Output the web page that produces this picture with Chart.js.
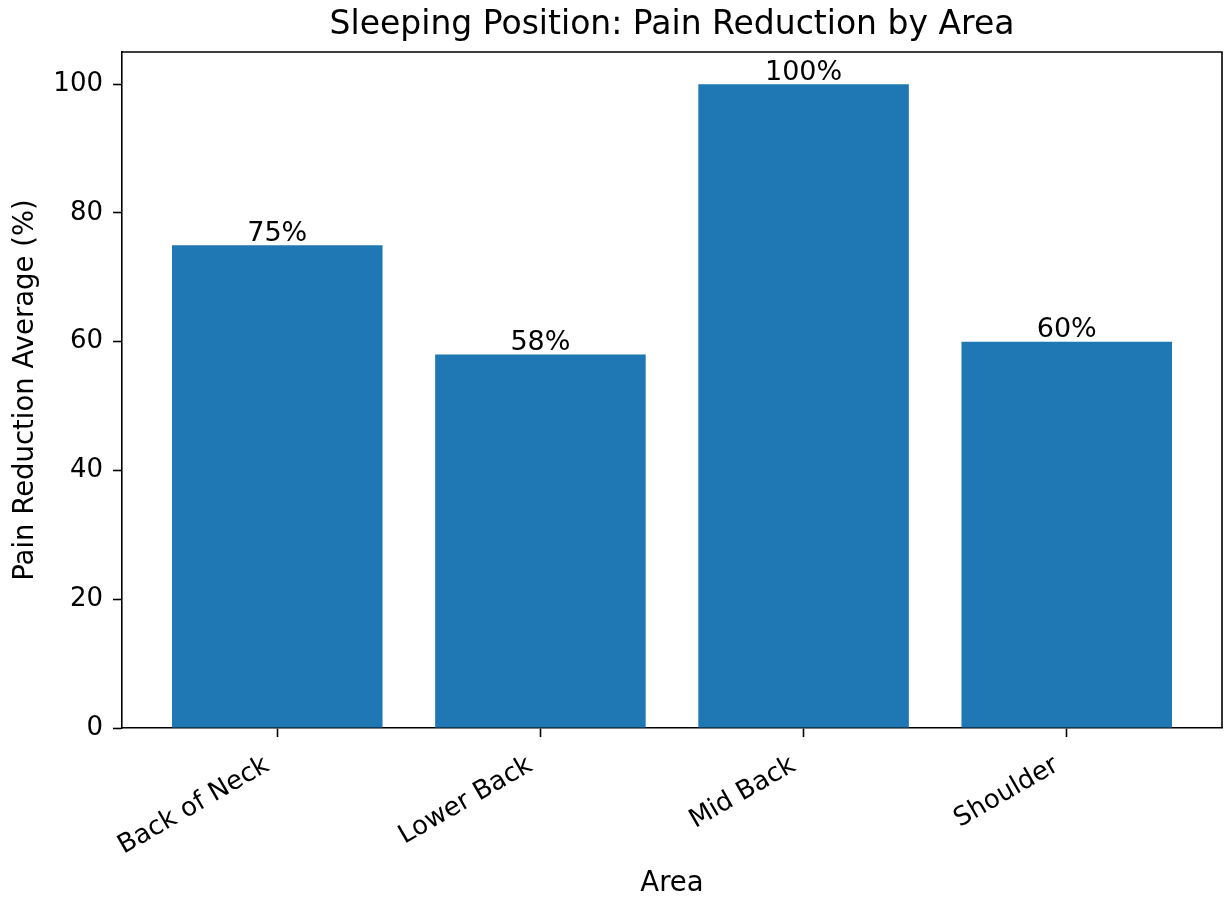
<!DOCTYPE html>
<html>
<head>
<meta charset="utf-8">
<script src="https://cdn.jsdelivr.net/npm/chart.js@4/dist/chart.umd.min.js"></script>
<style>
html, body { margin: 0; padding: 0; background: #fff; }
#wrap { width: 1225px; height: 898px; }
</style>
</head>
<body>
<div id="wrap"><canvas id="myChart"></canvas></div>
<script>
'use strict';
let areas = ['Back of Neck', 'Lower Back', 'Mid Back', 'Shoulder'];
let reduction = [75, 58, 100, 60];
let yTicks = [0, 20, 40, 60, 80, 100];

let barPoints = [];
for (let i = 0; i < areas.length; i++) {
    barPoints.push({ x: i, y: reduction[i] });
}

Chart.defaults.font.family = "'DejaVu Sans', sans-serif";
Chart.defaults.color = '#000';

// value labels above each bar, top/right spines, title centred on the plot
let barLabels = {
    id: 'barLabels',
    afterLayout(chart) {
        // matplotlib centres the title over the axes, not the whole figure
        if (chart.titleBlock) {
            chart.titleBlock.left = chart.chartArea.left;
            chart.titleBlock.right = chart.chartArea.right;
            chart.titleBlock.width = chart.chartArea.right - chart.chartArea.left;
        }
    },
    afterDatasetsDraw(chart) {
        let ctx = chart.ctx;
        let meta = chart.getDatasetMeta(0);
        ctx.save();
        ctx.font = "27px 'DejaVu Sans'";
        ctx.fillStyle = '#000';
        ctx.textAlign = 'center';
        ctx.textBaseline = 'bottom';
        meta.data.forEach(function (bar, i) {
            ctx.fillText(reduction[i] + '%', bar.x, bar.y + 2);
        });
        ctx.restore();
    },
    afterDraw(chart) {
        let a = chart.chartArea;
        let ctx = chart.ctx;
        ctx.save();
        ctx.strokeStyle = '#000';
        ctx.lineWidth = 1.6;
        ctx.beginPath();
        ctx.moveTo(a.left, a.top);
        ctx.lineTo(a.right, a.top);
        ctx.lineTo(a.right, a.bottom);
        ctx.stroke();
        ctx.restore();
    }
};

let ctx = document.getElementById('myChart').getContext('2d');
let myChart = new Chart(ctx, {
    type: 'bar',
    data: {
        datasets: [{
            data: barPoints,
            backgroundColor: '#1f77b4',
            borderWidth: 0,
            barPercentage: 0.8,
            categoryPercentage: 1
        }]
    },
    options: {
        responsive: true,
        maintainAspectRatio: false,
        animation: false,
        layout: { padding: { left: 0, right: 3, top: 0, bottom: 0 } },
        plugins: {
            legend: { display: false },
            tooltip: { enabled: false },
            title: {
                display: true,
                text: 'Sleeping Position: Pain Reduction by Area',
                font: { size: 33, weight: 'normal' },
                padding: { top: 6, bottom: 6.4 },
                color: '#000'
            }
        },
        scales: {
            x: {
                type: 'linear',
                min: -0.59,
                max: 3.59,
                offset: false,
                afterBuildTicks(scale) {
                    scale.ticks = areas.map(function (a, i) { return { value: i }; });
                },
                afterFit(scale) { scale.height = 170; },
                ticks: {
                    callback: function (v) { return areas[v]; },
                    font: { size: 26 },
                    maxRotation: 30,
                    minRotation: 30,
                    padding: 13,
                    labelOffset: -10,
                    autoSkip: false
                },
                grid: {
                    offset: false,
                    drawOnChartArea: false,
                    drawTicks: true,
                    tickLength: 9,
                    tickWidth: 1.6,
                    tickColor: '#000'
                },
                border: { display: true, color: '#000', width: 1.6 },
                title: {
                    display: true,
                    text: 'Area',
                    font: { size: 27.5, lineHeight: 1 },
                    padding: { top: 0, bottom: 0 }
                }
            },
            y: {
                min: 0,
                max: 105,
                afterBuildTicks(scale) {
                    scale.ticks = yTicks.map(function (v) { return { value: v }; });
                },
                afterFit(scale) { scale.width = 122; },
                ticks: {
                    font: { size: 26 },
                    padding: 10
                },
                grid: {
                    drawOnChartArea: false,
                    drawTicks: true,
                    tickLength: 9,
                    tickWidth: 1.6,
                    tickColor: '#000'
                },
                border: { display: true, color: '#000', width: 1.6 },
                title: {
                    display: true,
                    text: 'Pain Reduction Average (%)',
                    font: { size: 27.5 },
                    padding: { top: 9, bottom: 0 }
                }
            }
        }
    },
    plugins: [barLabels]
});
</script>
</body>
</html>
